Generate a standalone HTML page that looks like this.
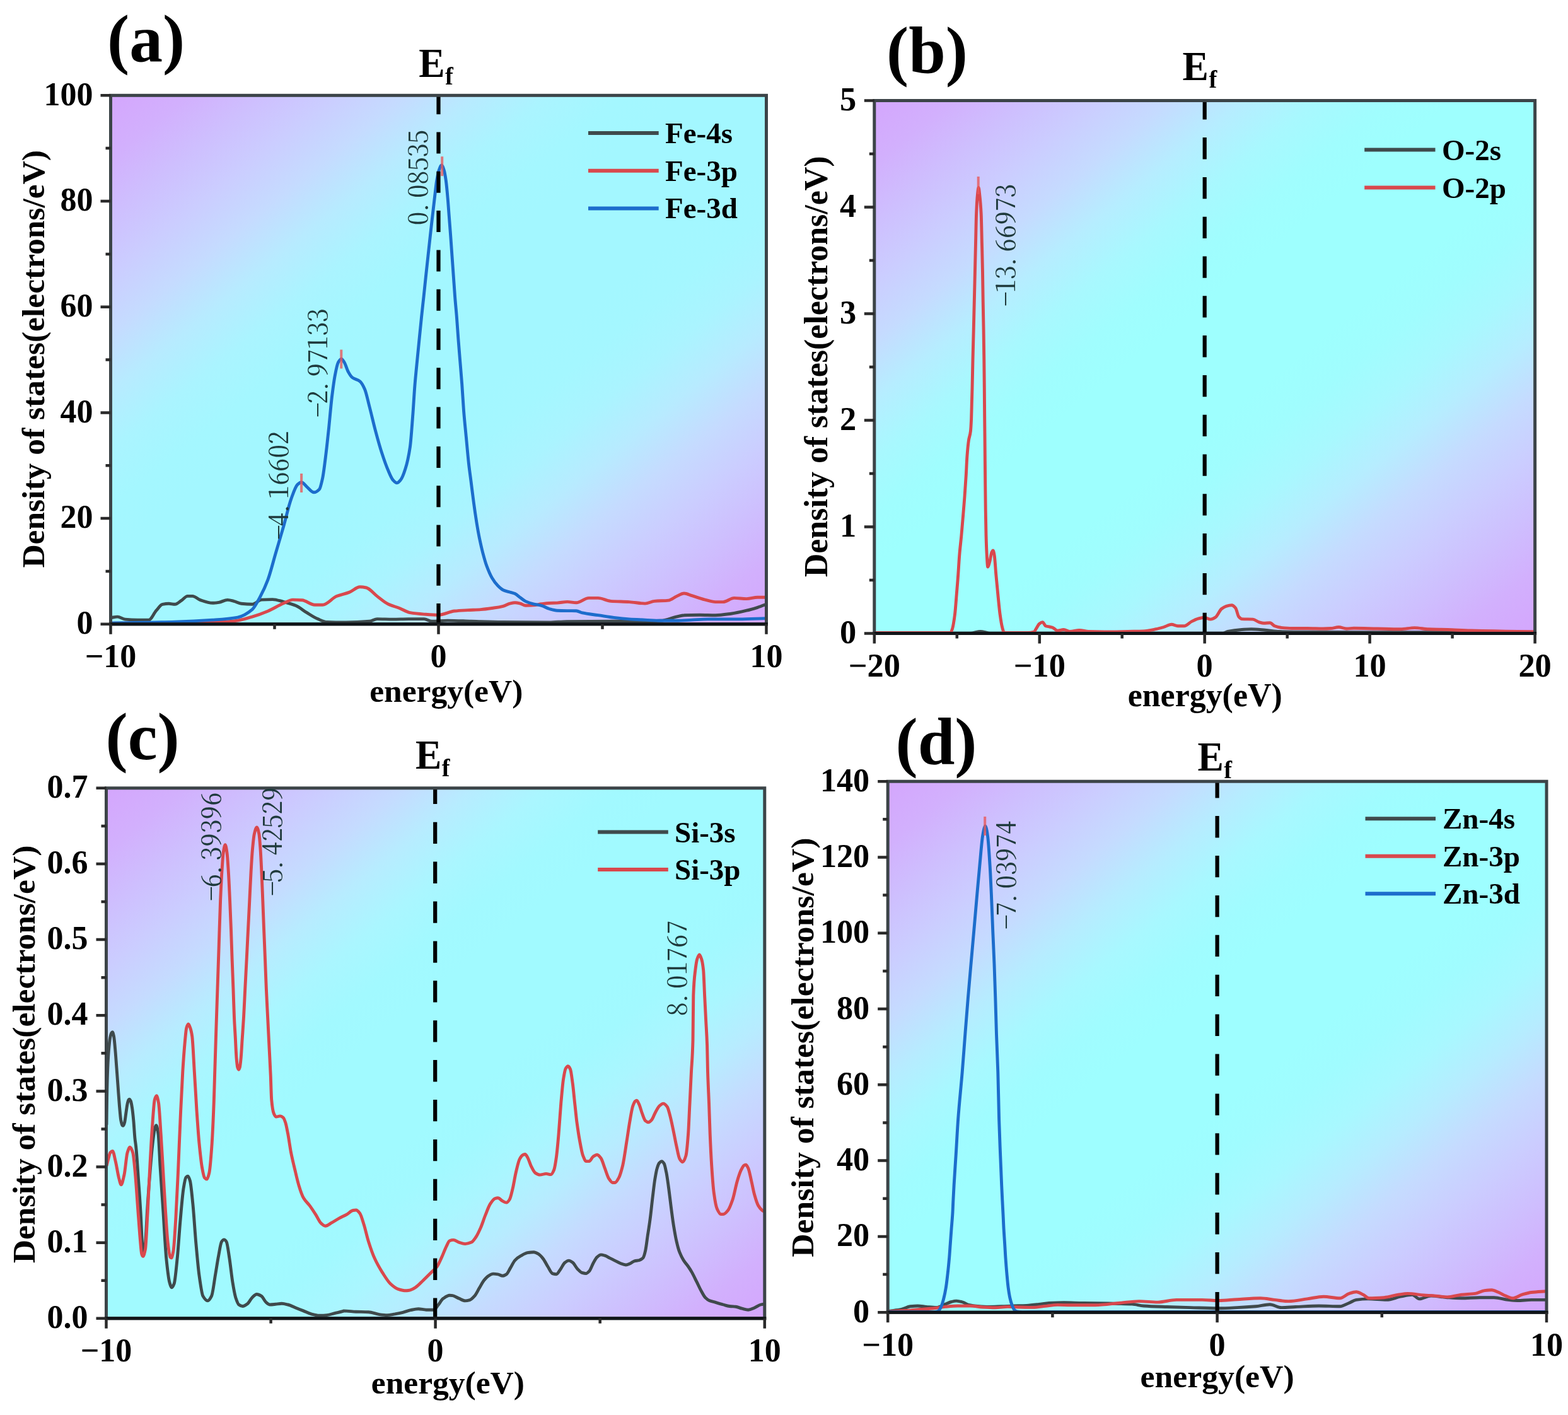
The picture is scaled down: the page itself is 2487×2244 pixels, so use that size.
<!DOCTYPE html>
<html lang="en"><head><meta charset="utf-8"><title>Partial density of states: Fe, O, Si, Zn</title>
<style>
html,body{margin:0;padding:0;background:#fff;overflow:hidden}
svg{display:block}
text{white-space:pre}
</style></head>
<body>
<svg xmlns="http://www.w3.org/2000/svg" width="2487" height="2244" viewBox="0 0 2487 2244">
<defs><linearGradient id="bg-a" x1="0" y1="0" x2="1" y2="1"><stop offset="0" stop-color="#d4a6fd"/><stop offset="0.06" stop-color="#d2b0fd"/><stop offset="0.115" stop-color="#cebffe"/><stop offset="0.17" stop-color="#cbcdff"/><stop offset="0.225" stop-color="#c5dbff"/><stop offset="0.28" stop-color="#b7ebff"/><stop offset="0.335" stop-color="#aaf4ff"/><stop offset="0.39" stop-color="#a4f7ff"/><stop offset="0.44" stop-color="#a3f7ff"/><stop offset="0.5" stop-color="#a3f7ff"/><stop offset="0.56" stop-color="#a3f7ff"/><stop offset="0.61" stop-color="#a4f7ff"/><stop offset="0.665" stop-color="#aaf4ff"/><stop offset="0.72" stop-color="#b7ebff"/><stop offset="0.775" stop-color="#c5dbff"/><stop offset="0.83" stop-color="#cbcdff"/><stop offset="0.885" stop-color="#cebffe"/><stop offset="0.94" stop-color="#d2b0fd"/><stop offset="1" stop-color="#d4a6fd"/></linearGradient><linearGradient id="bg-b" x1="0" y1="0" x2="1" y2="1"><stop offset="0" stop-color="#d4a6fd"/><stop offset="0.06" stop-color="#d2b0fd"/><stop offset="0.115" stop-color="#cebffe"/><stop offset="0.17" stop-color="#cbcdff"/><stop offset="0.225" stop-color="#c5dbff"/><stop offset="0.28" stop-color="#b6edff"/><stop offset="0.335" stop-color="#a8f8fe"/><stop offset="0.39" stop-color="#a0fdfe"/><stop offset="0.44" stop-color="#9efffe"/><stop offset="0.5" stop-color="#9efffe"/><stop offset="0.56" stop-color="#9efffe"/><stop offset="0.61" stop-color="#a0fdfe"/><stop offset="0.665" stop-color="#a8f8fe"/><stop offset="0.72" stop-color="#b6edff"/><stop offset="0.775" stop-color="#c5dbff"/><stop offset="0.83" stop-color="#cbcdff"/><stop offset="0.885" stop-color="#cebffe"/><stop offset="0.94" stop-color="#d2b0fd"/><stop offset="1" stop-color="#d4a6fd"/></linearGradient><linearGradient id="bg-c" x1="0" y1="0" x2="1" y2="1"><stop offset="0" stop-color="#d4a6fd"/><stop offset="0.06" stop-color="#d2b0fd"/><stop offset="0.115" stop-color="#cebffe"/><stop offset="0.17" stop-color="#cbcdff"/><stop offset="0.225" stop-color="#c5dbff"/><stop offset="0.28" stop-color="#b7ecff"/><stop offset="0.335" stop-color="#aaf6ff"/><stop offset="0.39" stop-color="#a2f9ff"/><stop offset="0.44" stop-color="#a1faff"/><stop offset="0.5" stop-color="#a1faff"/><stop offset="0.56" stop-color="#a1faff"/><stop offset="0.61" stop-color="#a2f9ff"/><stop offset="0.665" stop-color="#aaf6ff"/><stop offset="0.72" stop-color="#b7ecff"/><stop offset="0.775" stop-color="#c5dbff"/><stop offset="0.83" stop-color="#cbcdff"/><stop offset="0.885" stop-color="#cebffe"/><stop offset="0.94" stop-color="#d2b0fd"/><stop offset="1" stop-color="#d4a6fd"/></linearGradient><linearGradient id="bg-d" x1="0" y1="0" x2="1" y2="1"><stop offset="0" stop-color="#d4a6fd"/><stop offset="0.06" stop-color="#d2b0fd"/><stop offset="0.115" stop-color="#cebffe"/><stop offset="0.17" stop-color="#cbcdff"/><stop offset="0.225" stop-color="#c5dbff"/><stop offset="0.28" stop-color="#b6ecff"/><stop offset="0.335" stop-color="#a8f8ff"/><stop offset="0.39" stop-color="#a0fcff"/><stop offset="0.44" stop-color="#9efeff"/><stop offset="0.5" stop-color="#9efeff"/><stop offset="0.56" stop-color="#9efeff"/><stop offset="0.61" stop-color="#a0fcff"/><stop offset="0.665" stop-color="#a8f8ff"/><stop offset="0.72" stop-color="#b6ecff"/><stop offset="0.775" stop-color="#c5dbff"/><stop offset="0.83" stop-color="#cbcdff"/><stop offset="0.885" stop-color="#cebffe"/><stop offset="0.94" stop-color="#d2b0fd"/><stop offset="1" stop-color="#d4a6fd"/></linearGradient></defs>
<rect width="2487" height="2244" fill="#fff"/>
<g id="panel-a">
<rect x="175.5" y="151.3" width="1040.0" height="838.5" fill="url(#bg-a)"/>
<clipPath id="clip-a"><rect x="175.5" y="111.3" width="1040.0" height="879.5"/></clipPath>
<g clip-path="url(#clip-a)" fill="none" stroke-linejoin="round" stroke-linecap="round">
<path d="M175.5 979.7C179.1 979.2 182.8 978.1 186.4 978.1C190.4 978.1 194.3 981.7 198.3 982.1C204.9 982.7 211.5 983.1 218.1 983.1C224.1 983.1 230.0 983.1 236.0 983.1C240.0 983.1 243.9 972.6 247.9 968.2C251.2 964.6 254.5 958.9 257.8 958.3C261.1 957.7 264.4 957.3 267.7 957.3C271.0 957.3 274.3 958.3 277.6 958.3C280.9 958.3 284.3 954.5 287.6 952.4C290.9 950.2 294.2 945.4 297.5 945.4C300.1 945.4 302.8 945.4 305.4 945.4C309.4 945.4 313.3 950.0 317.3 951.4C323.9 953.6 330.5 956.3 337.1 956.3C340.4 956.3 343.7 955.8 347.1 955.3C351.7 954.7 356.3 951.4 360.9 951.4C364.2 951.4 367.5 952.5 370.8 953.4C374.8 954.3 378.8 956.9 382.7 957.3C388.5 957.9 394.2 958.3 400.0 958.3C405.0 958.3 409.9 951.4 414.9 951.1C420.7 950.8 426.4 950.6 432.2 950.6C438.0 950.6 443.8 952.9 449.6 954.3C456.2 956.0 462.8 957.7 469.4 960.5C475.2 963.0 481.0 968.2 486.8 971.7C492.5 975.2 498.3 979.2 504.1 981.6C509.1 983.7 514.0 986.4 519.0 986.5C528.9 986.9 538.8 987.0 548.7 987.0C561.1 987.0 573.5 986.4 585.9 985.3C590.1 984.9 594.2 981.6 598.3 981.6C606.6 981.6 614.8 982.1 623.1 982.1C631.4 982.1 639.6 981.6 647.9 981.6C656.2 981.6 664.4 981.6 672.7 981.6C676.8 981.6 680.9 985.3 685.1 985.3C693.3 985.3 701.6 984.1 709.9 984.1C722.3 984.1 734.7 984.9 747.1 985.3C763.6 985.8 780.1 986.4 796.6 986.5C821.4 986.8 846.2 987.0 871.0 987.0C880.4 987.0 889.8 985.7 899.2 985.6C923.9 985.3 948.7 985.3 973.5 985.1C998.3 984.9 1023.1 984.9 1047.9 984.3C1056.2 984.2 1064.4 980.0 1072.7 978.1C1076.8 977.2 1080.9 975.8 1085.1 975.7C1093.3 975.3 1101.6 975.2 1109.9 975.2C1118.1 975.2 1126.4 975.7 1134.7 975.7C1142.9 975.7 1151.2 974.3 1159.4 973.2C1167.7 972.1 1176.0 970.2 1184.2 968.2C1190.0 966.9 1195.8 965.1 1201.6 963.3C1206.1 961.8 1210.7 960.0 1215.2 958.3" stroke="#3f4a4c" stroke-width="4.9"/>
<path d="M175.5 988.1C216.2 987.9 256.8 987.9 297.5 987.7C317.3 987.5 337.1 987.0 357.0 986.1C363.6 985.8 370.2 985.0 376.8 984.1C384.5 983.0 392.3 980.5 400.0 978.1C408.3 975.7 416.5 972.7 424.8 969.2C433.1 965.7 441.3 960.3 449.6 956.8C454.5 954.7 459.5 951.1 464.5 951.1C469.4 951.1 474.4 951.4 479.3 951.8C485.9 952.4 492.5 959.3 499.2 959.3C503.3 959.3 507.4 959.3 511.6 959.3C519.0 959.3 526.4 948.7 533.9 945.6C540.5 942.9 547.1 942.0 553.7 939.4C559.5 937.2 565.3 930.8 571.0 930.8C574.4 930.8 577.7 931.3 581.0 932.0C586.7 933.2 592.5 941.3 598.3 945.6C604.1 950.0 609.9 955.3 615.7 958.0C621.5 960.8 627.2 962.0 633.0 964.2C638.8 966.5 644.6 970.6 650.4 971.7C657.8 973.0 665.2 973.6 672.7 974.1C680.1 974.7 687.6 975.4 695.0 975.4C703.6 975.4 712.3 969.9 720.9 969.0C727.9 968.3 734.8 968.0 741.8 967.6C748.7 967.2 755.7 967.1 762.6 966.6C769.6 966.1 776.5 965.0 783.5 964.0C788.4 963.3 793.2 962.5 798.1 961.3C801.6 960.4 805.1 958.1 808.6 957.2C811.4 956.5 814.1 955.7 816.9 955.7C819.7 955.7 822.5 956.5 825.3 957.2C828.1 957.9 830.8 960.3 833.6 960.3C837.8 960.3 841.9 960.1 846.1 959.9C850.3 959.7 854.5 958.3 858.7 957.8C862.9 957.3 867.0 956.7 871.2 956.5C875.4 956.3 879.5 956.3 883.7 956.1C889.1 955.8 894.6 954.4 900.0 954.4C904.7 954.4 909.4 955.8 914.0 955.8C920.6 955.8 927.3 948.4 933.9 948.4C938.8 948.4 943.8 948.4 948.7 948.4C955.3 948.4 962.0 952.9 968.6 953.4C978.5 954.1 988.4 954.0 998.3 954.6C1006.6 955.1 1014.8 957.1 1023.1 957.1C1028.1 957.1 1033.0 953.8 1038.0 953.4C1045.4 952.7 1052.9 952.9 1060.3 952.1C1064.4 951.7 1068.6 947.8 1072.7 945.9C1076.8 944.1 1080.9 941.0 1085.1 941.0C1089.2 941.0 1093.3 943.4 1097.5 944.7C1104.1 946.7 1110.7 949.2 1117.3 950.9C1123.1 952.3 1128.9 954.6 1134.7 954.6C1138.8 954.6 1142.9 954.6 1147.1 954.6C1152.8 954.6 1158.6 948.4 1164.4 948.4C1171.0 948.4 1177.6 949.6 1184.2 949.6C1190.0 949.6 1195.8 947.2 1201.6 947.2C1206.1 947.2 1210.7 947.2 1215.2 947.2" stroke="#d9484d" stroke-width="4.9"/>
<path d="M175.5 988.1C209.6 987.4 243.6 987.1 277.6 986.1C297.5 985.5 317.3 984.5 337.1 983.1C350.4 982.2 363.6 981.5 376.8 979.1C384.5 977.8 392.3 973.2 400.0 966.7C404.1 963.2 408.3 954.5 412.4 946.9C416.5 939.2 420.7 930.7 424.8 919.6C428.9 908.6 433.1 891.5 437.2 877.5C441.3 863.4 445.4 849.8 449.6 835.3C453.7 820.9 457.8 802.1 462.0 790.7C465.3 781.6 468.6 771.4 471.9 768.4C474.0 766.5 476.0 764.7 478.1 764.7C481.0 764.7 483.9 769.8 486.8 772.1C490.5 775.2 494.2 780.8 497.9 780.8C500.8 780.8 503.7 778.9 506.6 775.8C508.2 774.1 509.9 766.2 511.6 758.5C513.2 750.8 514.9 736.8 516.5 723.8C518.2 710.8 519.8 694.8 521.5 679.2C523.1 663.5 524.8 643.2 526.4 629.6C528.1 616.0 529.7 603.3 531.4 594.9C533.0 586.5 534.7 578.1 536.3 575.0C538.0 572.0 539.6 569.1 541.3 569.1C543.0 569.1 544.6 572.4 546.3 575.0C548.3 578.3 550.4 586.3 552.5 589.9C554.5 593.6 556.6 597.0 558.7 598.6C562.8 601.8 566.9 601.5 571.0 604.8C573.5 606.8 576.0 611.5 578.5 617.2C581.0 622.9 583.4 635.0 585.9 644.5C589.2 657.1 592.5 671.8 595.8 684.1C599.1 696.5 602.4 708.6 605.8 718.8C609.1 729.0 612.4 738.5 615.7 746.1C618.1 751.8 620.6 758.2 623.1 761.0C625.2 763.3 627.2 765.9 629.3 765.9C631.4 765.9 633.4 763.4 635.5 761.0C638.0 758.1 640.5 751.3 642.9 743.6C645.4 735.9 647.9 726.0 650.4 708.9C651.8 699.2 653.2 678.4 654.6 660.3C655.8 645.3 656.9 623.7 658.1 609.5C659.3 595.3 660.4 584.7 661.6 572.6C662.7 560.8 663.9 549.3 665.0 537.9C666.2 526.2 667.3 514.5 668.5 503.3C669.7 492.1 670.8 481.8 672.0 470.9C673.1 460.3 674.3 449.2 675.4 438.6C676.6 427.7 677.7 417.1 678.9 406.3C680.1 395.5 681.2 384.4 682.4 373.9C683.5 363.7 684.7 353.8 685.8 343.9C687.0 333.8 688.1 323.6 689.3 313.9C690.4 304.4 691.6 292.9 692.7 286.2C693.9 279.3 695.0 273.2 696.2 270.0C697.6 266.1 699.0 261.9 700.4 261.9C701.7 261.9 703.0 266.0 704.3 270.0C705.3 273.1 706.3 279.2 707.3 286.2C708.2 292.7 709.2 303.4 710.1 313.9C710.9 322.6 711.6 333.9 712.4 343.9C713.2 353.9 713.9 363.5 714.7 373.9C715.5 384.3 716.2 395.5 717.0 406.3C717.8 417.1 718.5 427.8 719.3 438.6C720.1 449.4 720.8 461.1 721.6 470.9C722.5 482.8 723.5 491.5 724.4 503.3C725.2 513.8 726.1 527.0 726.9 537.9C727.8 550.1 728.8 561.1 729.7 572.6C730.7 584.9 731.7 596.0 732.7 609.5C733.6 622.1 734.6 639.5 735.5 651.3C736.8 667.7 738.1 679.4 739.4 693.1C740.7 707.2 742.1 722.9 743.4 734.8C744.7 746.7 746.1 755.7 747.4 766.1C748.7 776.5 750.1 787.8 751.4 797.5C752.9 808.7 754.5 819.4 756.0 828.8C757.5 838.0 759.0 846.5 760.5 853.8C762.3 862.4 764.0 870.1 765.8 876.8C767.9 884.7 769.9 892.1 772.0 897.7C774.8 905.3 777.6 911.8 780.4 916.5C783.5 921.8 786.7 925.9 789.8 929.0C792.6 931.8 795.3 934.4 798.1 935.7C801.6 937.3 805.1 937.9 808.6 939.0C811.4 939.9 814.1 940.3 816.9 941.5C819.7 942.7 822.5 945.8 825.3 947.8C828.1 949.8 830.8 952.3 833.6 953.6C837.8 955.5 841.9 956.8 846.1 957.8C850.3 958.8 854.5 959.2 858.7 960.3C862.9 961.4 867.0 964.3 871.2 965.5C875.4 966.7 879.5 968.0 883.7 968.2C889.1 968.4 894.6 968.5 900.0 968.6C904.7 968.7 909.4 968.6 914.0 968.7C917.3 968.8 920.6 971.2 923.9 971.9C932.2 973.7 940.5 974.4 948.7 975.7C957.0 976.9 965.3 978.4 973.5 979.4C981.8 980.4 990.1 981.3 998.3 981.9C1006.6 982.4 1014.8 982.7 1023.1 983.1C1031.4 983.5 1039.6 984.3 1047.9 984.3C1056.2 984.3 1064.4 984.3 1072.7 984.3C1080.9 984.3 1089.2 983.5 1097.5 983.1C1105.7 982.7 1114.0 981.9 1122.3 981.9C1138.8 981.9 1155.3 981.9 1171.8 981.9C1186.3 981.9 1200.8 981.0 1215.2 980.6" stroke="#1c6dcc" stroke-width="4.9"/>
</g>
<line x1="701.2" y1="248.2" x2="701.2" y2="279.2" stroke="#e8575a" stroke-width="4" stroke-opacity="0.8"/>
<line x1="541.3" y1="554.5" x2="541.3" y2="584.5" stroke="#e8575a" stroke-width="4" stroke-opacity="0.8"/>
<line x1="478.1" y1="751.0" x2="478.1" y2="781.0" stroke="#e8575a" stroke-width="4" stroke-opacity="0.8"/>
<line x1="695.5" y1="989.8" x2="695.5" y2="151.3" stroke="#000" stroke-width="6.2" stroke-dasharray="34 28.3" stroke-dashoffset="1.3"/>
<rect x="175.5" y="151.3" width="1040.0" height="838.5" fill="none" stroke="#3c4448" stroke-width="5"/>
<line x1="173.0" y1="989.8" x2="1218.0" y2="989.8" stroke="#101418" stroke-width="5"/>
<path d="M175.5 989.8 V1005.8M435.5 989.8 V997.8M695.5 989.8 V1005.8M955.5 989.8 V997.8M1215.5 989.8 V1005.8M175.5 989.8 H159.5M175.5 905.9 H167.5M175.5 822.1 H159.5M175.5 738.2 H167.5M175.5 654.4 H159.5M175.5 570.5 H167.5M175.5 486.7 H159.5M175.5 402.9 H167.5M175.5 319.0 H159.5M175.5 235.1 H167.5M175.5 151.3 H159.5" stroke="#2a2a2a" stroke-width="4.5" fill="none"/>
<g font-family="'Liberation Serif','Noto Serif CJK SC',serif" font-weight="bold" font-size="52.0" fill="#000">
<text x="175.5" y="1057.5" text-anchor="middle">−10</text>
<text x="695.5" y="1057.5" text-anchor="middle">0</text>
<text x="1215.5" y="1057.5" text-anchor="middle">10</text>
<text x="147.5" y="1005.0" text-anchor="end">0</text>
<text x="147.5" y="837.3" text-anchor="end">20</text>
<text x="147.5" y="669.6" text-anchor="end">40</text>
<text x="147.5" y="501.9" text-anchor="end">60</text>
<text x="147.5" y="334.2" text-anchor="end">80</text>
<text x="147.5" y="166.5" text-anchor="end">100</text>
</g>
<text x="707.8" y="1113.4" text-anchor="middle" font-family="'Liberation Serif','Noto Serif CJK SC',serif" font-weight="bold" font-size="51.5">energy(eV)</text>
<text transform="translate(69.5 569.3) rotate(-90)" text-anchor="middle" font-family="'Liberation Serif','Noto Serif CJK SC',serif" font-weight="bold" font-size="51.5">Density of states(electrons/eV)</text>
<text transform="translate(664.3 122.2) scale(0.96 1)" font-family="'Liberation Serif','Noto Serif CJK SC',serif" font-weight="bold" font-size="64.5">E<tspan font-size="40" dx="0.5" dy="11.5">f</tspan></text>
<text x="170.0" y="97.0" font-family="'Liberation Serif','Noto Serif CJK SC',serif" font-weight="bold" font-size="105.5">(a)</text>
<line x1="933.0" y1="211.0" x2="1044.7" y2="211.0" stroke="#3f4a4c" stroke-width="6.0"/>
<text x="1055.0" y="227.0" font-family="'Liberation Serif','Noto Serif CJK SC',serif" font-weight="bold" font-size="47">Fe-4s</text>
<line x1="933.0" y1="270.7" x2="1044.7" y2="270.7" stroke="#d9484d" stroke-width="6.0"/>
<text x="1055.0" y="286.7" font-family="'Liberation Serif','Noto Serif CJK SC',serif" font-weight="bold" font-size="47">Fe-3p</text>
<line x1="933.0" y1="330.4" x2="1044.7" y2="330.4" stroke="#1c6dcc" stroke-width="6.0"/>
<text x="1055.0" y="346.4" font-family="'Liberation Serif','Noto Serif CJK SC',serif" font-weight="bold" font-size="47">Fe-3d</text>
<text transform="translate(457.0 856.2) rotate(-90) scale(1 0.926)" x="-0.1 21.6 38.7 64.8 86.4 108.0 129.6 151.2" y="-4.3 0.0 0.0 0.0 0.0 0.0 0.0 0.0" font-family="'Noto Serif CJK SC','Liberation Serif',serif" font-weight="400" font-size="43.2" fill="#1f3a3c" style="font-feature-settings:'hwid'">–4.16602</text>
<text transform="translate(519.0 662.2) rotate(-90) scale(1 0.926)" x="-0.1 21.6 38.7 64.8 86.4 108.0 129.6 151.2" y="-4.3 0.0 0.0 0.0 0.0 0.0 0.0 0.0" font-family="'Noto Serif CJK SC','Liberation Serif',serif" font-weight="400" font-size="43.2" fill="#1f3a3c" style="font-feature-settings:'hwid'">–2.97133</text>
<text transform="translate(678.0 357.2) rotate(-90) scale(1 0.926)" x="0.0 17.1 43.2 64.8 86.4 108.0 129.6" y="0.0 0.0 0.0 0.0 0.0 0.0 0.0" font-family="'Noto Serif CJK SC','Liberation Serif',serif" font-weight="400" font-size="43.2" fill="#1f3a3c" style="font-feature-settings:'hwid'">0.08535</text>
</g>
<g id="panel-b">
<rect x="1386.8" y="159.5" width="1047.8" height="845.0" fill="url(#bg-b)"/>
<clipPath id="clip-b"><rect x="1386.8" y="119.5" width="1047.8" height="886.0"/></clipPath>
<g clip-path="url(#clip-b)" fill="none" stroke-linejoin="round" stroke-linecap="round">
<path d="M1387.0 1004.0C1438.0 1004.0 1489.0 1004.0 1540.0 1004.0C1545.0 1004.0 1550.0 1001.5 1555.0 1001.5C1560.0 1001.5 1565.0 1004.0 1570.0 1004.0C1693.3 1004.0 1816.7 1004.0 1940.0 1004.0C1942.5 1004.0 1944.9 1002.0 1947.4 1001.5C1954.8 999.9 1962.2 999.0 1969.6 998.5C1974.6 998.2 1979.5 997.8 1984.4 997.8C1991.8 997.8 1999.2 998.7 2006.7 999.3C2014.1 999.8 2021.5 1001.2 2028.9 1001.5C2043.7 1001.9 2058.5 1002.1 2073.3 1002.2C2110.4 1002.4 2147.4 1002.5 2184.4 1002.6C2267.4 1002.8 2350.3 1002.8 2433.3 1003.0" stroke="#3f4a4c" stroke-width="4.9"/>
<path d="M1387.0 1003.5C1424.7 1003.5 1462.3 1003.5 1500.0 1003.5C1502.5 1003.5 1505.0 1003.5 1507.5 1003.5C1508.4 1003.5 1509.4 1000.6 1510.3 998.0C1511.7 994.0 1513.1 985.1 1514.5 974.2C1515.4 967.2 1516.3 953.8 1517.2 942.9C1518.0 932.8 1518.9 922.9 1519.7 911.5C1520.4 901.9 1521.1 888.7 1521.8 880.2C1522.8 867.6 1523.9 860.1 1524.9 848.9C1525.8 839.2 1526.7 828.4 1527.6 817.5C1528.4 807.4 1529.3 797.6 1530.1 786.2C1530.8 776.6 1531.5 766.5 1532.2 754.9C1532.8 745.5 1533.3 731.1 1533.9 723.6C1534.7 712.6 1535.6 704.0 1536.4 698.5C1537.4 691.9 1538.4 692.0 1539.4 684.0C1539.8 680.8 1540.2 674.1 1540.6 665.0C1540.8 659.7 1541.1 648.2 1541.3 640.0C1541.5 631.8 1541.8 625.1 1542.0 616.0C1542.3 603.0 1542.7 584.0 1543.0 570.0C1543.4 553.2 1543.8 540.0 1544.2 524.0C1544.6 509.3 1544.9 493.3 1545.3 478.0C1545.7 462.7 1546.0 447.4 1546.4 432.0C1546.8 416.6 1547.1 401.0 1547.5 385.5C1547.9 370.0 1548.2 348.2 1548.6 339.0C1549.2 324.8 1549.7 315.6 1550.3 310.0C1550.9 304.1 1551.5 297.5 1552.1 297.5C1552.7 297.5 1553.3 304.7 1553.9 310.0C1554.7 316.8 1555.4 323.8 1556.2 339.3C1556.6 347.4 1557.0 369.4 1557.4 385.5C1557.8 400.2 1558.1 412.6 1558.5 431.7C1558.7 443.9 1559.0 464.4 1559.2 477.9C1559.5 495.3 1559.8 506.6 1560.1 524.0C1560.3 537.5 1560.6 552.1 1560.8 570.2C1561.0 583.2 1561.1 599.2 1561.3 616.4C1561.4 630.1 1561.6 649.1 1561.7 662.6C1561.8 672.7 1561.9 679.9 1562.0 690.0C1562.1 700.1 1562.2 712.8 1562.3 723.6C1562.4 738.0 1562.6 752.9 1562.7 765.3C1562.9 780.8 1563.0 796.2 1563.2 807.1C1563.5 824.6 1563.7 839.4 1564.0 848.9C1564.4 863.1 1564.8 873.3 1565.2 880.2C1565.7 888.8 1566.2 899.0 1566.7 899.0C1567.7 899.0 1568.8 894.2 1569.8 890.7C1570.8 887.2 1571.9 878.3 1572.9 876.0C1573.6 874.5 1574.3 872.9 1575.0 872.9C1575.7 872.9 1576.4 876.5 1577.1 880.2C1578.0 884.9 1578.9 901.6 1579.8 911.5C1580.8 922.5 1581.8 932.9 1582.8 942.9C1583.9 953.9 1585.0 966.2 1586.1 974.2C1587.3 982.9 1588.5 990.7 1589.7 995.1C1590.7 998.9 1591.8 1003.5 1592.8 1003.5C1595.2 1003.5 1597.6 1003.5 1600.0 1003.5C1610.0 1003.5 1620.0 1003.5 1630.0 1003.5C1633.3 1003.5 1636.7 1003.0 1640.0 1002.0C1641.2 1001.6 1642.5 998.3 1643.7 996.5C1645.4 994.1 1647.0 990.3 1648.7 989.1C1650.3 987.8 1652.0 986.6 1653.6 986.6C1655.3 986.6 1656.9 992.2 1658.6 992.8C1660.7 993.5 1662.7 993.6 1664.8 994.0C1666.4 994.4 1668.1 994.7 1669.7 995.3C1672.2 996.1 1674.7 1000.2 1677.2 1000.2C1680.5 1000.2 1683.8 998.5 1687.1 998.5C1690.4 998.5 1693.7 1001.5 1697.0 1001.5C1702.0 1001.5 1706.9 999.5 1711.9 999.5C1716.8 999.5 1721.8 1001.3 1726.8 1001.5C1735.0 1001.8 1743.3 1002.0 1751.6 1002.0C1763.9 1002.0 1776.3 1001.7 1788.7 1001.5C1797.0 1001.3 1805.3 1001.3 1813.5 1001.0C1820.1 1000.7 1826.7 999.1 1833.4 997.7C1837.5 996.9 1841.6 995.7 1845.8 994.5C1849.9 993.3 1854.0 990.3 1858.1 990.3C1861.5 990.3 1864.8 992.8 1868.1 992.8C1871.4 992.8 1874.7 992.8 1878.0 992.8C1882.1 992.8 1886.2 987.4 1890.4 985.4C1893.7 983.7 1897.0 982.0 1900.3 981.1C1903.6 980.2 1906.9 979.2 1910.2 979.2C1913.5 979.2 1916.8 982.1 1920.1 982.1C1922.6 982.1 1925.1 980.7 1927.6 979.2C1930.9 977.2 1934.2 968.1 1937.5 965.5C1940.0 963.6 1942.4 962.0 1944.9 961.3C1947.8 960.5 1950.7 959.8 1953.6 959.8C1955.7 959.8 1957.7 961.9 1959.8 964.3C1961.4 966.2 1963.1 976.0 1964.7 977.9C1966.4 979.9 1968.0 981.5 1969.7 981.6C1975.5 982.0 1981.3 981.8 1987.1 982.1C1990.4 982.3 1993.7 985.6 1997.0 986.6C1999.4 987.3 2001.9 988.3 2004.4 988.3C2007.7 988.3 2011.0 987.8 2014.3 987.8C2016.8 987.8 2019.3 991.9 2021.8 992.8C2025.1 994.0 2028.4 994.9 2031.7 995.3C2037.5 995.9 2043.2 996.5 2049.0 996.5C2057.3 996.5 2065.5 996.5 2073.8 996.5C2082.1 996.5 2090.3 997.0 2098.6 997.0C2102.7 997.0 2106.9 996.8 2111.0 996.5C2115.1 996.2 2119.3 994.5 2123.4 994.5C2127.5 994.5 2131.7 997.0 2135.8 997.0C2139.7 997.0 2143.5 996.3 2147.4 996.3C2159.7 996.3 2172.1 996.8 2184.4 997.0C2196.8 997.3 2209.1 997.8 2221.5 997.8C2228.9 997.8 2236.3 995.6 2243.7 995.6C2251.1 995.6 2258.5 997.5 2265.9 997.8C2275.8 998.2 2285.7 998.2 2295.5 998.5C2307.9 998.9 2320.2 999.7 2332.6 1000.0C2344.9 1000.3 2357.3 1000.5 2369.6 1000.7C2381.9 1001.0 2394.3 1001.3 2406.6 1001.5C2415.5 1001.6 2424.4 1001.7 2433.3 1001.8" stroke="#d9484d" stroke-width="4.9"/>
</g>
<line x1="1551.7" y1="280.0" x2="1551.7" y2="308.0" stroke="#e8575a" stroke-width="4" stroke-opacity="0.8"/>
<line x1="1910.7" y1="1004.5" x2="1910.7" y2="159.5" stroke="#000" stroke-width="6.2" stroke-dasharray="34.3 28.5" stroke-dashoffset="1.5"/>
<rect x="1386.8" y="159.5" width="1047.8" height="845.0" fill="none" stroke="#3c4448" stroke-width="5"/>
<line x1="1384.3" y1="1004.5" x2="2437.1" y2="1004.5" stroke="#101418" stroke-width="5"/>
<path d="M1386.8 1004.5 V1020.5M1517.8 1004.5 V1012.5M1648.8 1004.5 V1020.5M1779.7 1004.5 V1012.5M1910.7 1004.5 V1020.5M2041.7 1004.5 V1012.5M2172.6 1004.5 V1020.5M2303.6 1004.5 V1012.5M2434.6 1004.5 V1020.5M1386.8 1004.5 H1370.8M1386.8 920.0 H1378.8M1386.8 835.5 H1370.8M1386.8 751.0 H1378.8M1386.8 666.5 H1370.8M1386.8 582.0 H1378.8M1386.8 497.5 H1370.8M1386.8 413.0 H1378.8M1386.8 328.5 H1370.8M1386.8 244.0 H1378.8M1386.8 159.5 H1370.8" stroke="#2a2a2a" stroke-width="4.5" fill="none"/>
<g font-family="'Liberation Serif','Noto Serif CJK SC',serif" font-weight="bold" font-size="52.42" fill="#000">
<text x="1386.8" y="1072.5" text-anchor="middle">−20</text>
<text x="1648.8" y="1072.5" text-anchor="middle">−10</text>
<text x="1910.7" y="1072.5" text-anchor="middle">0</text>
<text x="2172.6" y="1072.5" text-anchor="middle">10</text>
<text x="2434.6" y="1072.5" text-anchor="middle">20</text>
<text x="1358.3" y="1020.1" text-anchor="end">0</text>
<text x="1358.3" y="851.1" text-anchor="end">1</text>
<text x="1358.3" y="682.1" text-anchor="end">2</text>
<text x="1358.3" y="513.1" text-anchor="end">3</text>
<text x="1358.3" y="344.1" text-anchor="end">4</text>
<text x="1358.3" y="175.1" text-anchor="end">5</text>
</g>
<text x="1911.2" y="1119.5" text-anchor="middle" font-family="'Liberation Serif','Noto Serif CJK SC',serif" font-weight="bold" font-size="51.91">energy(eV)</text>
<text transform="translate(1312.4 581.4) rotate(-90)" text-anchor="middle" font-family="'Liberation Serif','Noto Serif CJK SC',serif" font-weight="bold" font-size="51.91">Density of states(electrons/eV)</text>
<text transform="translate(1875.6 127.3) scale(0.96 1)" font-family="'Liberation Serif','Noto Serif CJK SC',serif" font-weight="bold" font-size="64.5">E<tspan font-size="40" dx="0.5" dy="11.5">f</tspan></text>
<text x="1406.0" y="116.0" font-family="'Liberation Serif','Noto Serif CJK SC',serif" font-weight="bold" font-size="105.5">(b)</text>
<line x1="2164.2" y1="237.5" x2="2276.5" y2="237.5" stroke="#3f4a4c" stroke-width="6.0"/>
<text x="2287.0" y="253.5" font-family="'Liberation Serif','Noto Serif CJK SC',serif" font-weight="bold" font-size="47">O-2s</text>
<line x1="2164.2" y1="297.5" x2="2276.5" y2="297.5" stroke="#d9484d" stroke-width="6.0"/>
<text x="2287.0" y="313.5" font-family="'Liberation Serif','Noto Serif CJK SC',serif" font-weight="bold" font-size="47">O-2p</text>
<text transform="translate(1610.0 486.2) rotate(-90) scale(1 0.926)" x="-0.1 21.6 43.2 60.3 86.4 108.0 129.6 151.2 172.8" y="-4.3 0.0 0.0 0.0 0.0 0.0 0.0 0.0 0.0" font-family="'Noto Serif CJK SC','Liberation Serif',serif" font-weight="400" font-size="43.2" fill="#1f3a3c" style="font-feature-settings:'hwid'">–13.66973</text>
</g>
<g id="panel-c">
<rect x="168.5" y="1249.8" width="1044.3" height="841.0" fill="url(#bg-c)"/>
<clipPath id="clip-c"><rect x="168.5" y="1209.8" width="1044.3" height="882.0"/></clipPath>
<g clip-path="url(#clip-c)" fill="none" stroke-linejoin="round" stroke-linecap="round">
<path d="M169.0 1783.1C169.2 1768.2 169.4 1748.8 169.6 1738.5C170.0 1717.9 170.4 1703.6 170.8 1693.9C171.3 1681.6 171.8 1673.3 172.3 1667.1C173.1 1657.8 173.8 1650.2 174.5 1646.3C175.3 1642.4 176.0 1639.2 176.8 1638.1C177.3 1637.3 177.8 1636.6 178.3 1636.6C179.0 1636.6 179.7 1639.9 180.5 1643.3C181.2 1646.7 182.0 1655.9 182.7 1664.1C183.5 1672.3 184.2 1683.9 185.0 1693.9C185.7 1703.8 186.4 1713.7 187.2 1723.6C187.9 1733.5 188.7 1744.9 189.4 1753.4C190.2 1761.9 190.9 1771.4 191.6 1775.7C192.4 1779.9 193.1 1784.0 193.9 1784.6C194.4 1785.0 194.9 1785.3 195.4 1785.3C196.1 1785.3 196.9 1782.7 197.6 1780.1C198.3 1777.6 199.1 1770.2 199.8 1765.3C200.6 1760.3 201.3 1753.6 202.1 1750.4C202.7 1747.8 203.2 1745.2 203.8 1744.4C204.3 1743.8 204.8 1743.2 205.3 1743.2C206.0 1743.2 206.6 1744.6 207.3 1745.9C208.0 1747.5 208.8 1751.8 209.5 1756.3C210.2 1760.8 211.0 1767.9 211.7 1775.7C212.5 1783.5 213.2 1798.3 214.0 1805.4C214.5 1810.7 215.1 1812.9 215.6 1818.1C216.9 1829.7 218.1 1850.3 219.3 1867.6C220.6 1884.8 221.8 1900.8 223.0 1921.9C223.9 1936.0 224.7 1959.6 225.5 1971.4C226.1 1979.6 226.7 1991.2 227.2 1991.2C228.3 1991.2 229.4 1980.9 230.5 1971.4C231.7 1960.4 232.9 1927.9 234.2 1909.6C235.4 1891.3 236.6 1875.3 237.9 1860.1C239.1 1845.0 240.3 1829.1 241.6 1818.1C242.8 1807.1 244.1 1795.4 245.3 1790.9C246.1 1787.9 246.9 1784.7 247.8 1784.7C248.8 1784.7 249.9 1791.0 251.0 1798.3C252.0 1805.1 253.0 1832.1 253.9 1847.8C255.6 1873.9 257.2 1897.2 258.9 1921.9C260.5 1946.7 262.2 1979.6 263.8 1996.1C265.5 2012.6 267.1 2027.5 268.8 2033.2C270.0 2037.5 271.2 2041.8 272.5 2041.8C273.7 2041.8 275.0 2039.0 276.2 2035.7C277.8 2031.3 279.5 2012.2 281.1 1996.1C282.8 1980.0 284.4 1952.6 286.1 1934.3C287.7 1916.0 289.4 1895.2 291.0 1884.9C292.3 1877.1 293.5 1869.2 294.7 1867.6C295.8 1866.2 296.9 1865.1 297.9 1865.1C299.1 1865.1 300.3 1868.7 301.4 1872.5C302.9 1877.4 304.4 1894.8 305.9 1909.6C307.5 1926.0 309.2 1953.1 310.8 1971.4C312.5 1989.7 314.1 2008.9 315.7 2020.8C317.8 2035.8 319.9 2051.9 321.9 2055.4C324.4 2059.7 326.9 2062.9 329.3 2062.9C331.4 2062.9 333.5 2059.5 335.5 2055.4C337.6 2051.4 339.6 2032.8 341.7 2020.8C343.4 2011.3 345.0 1999.6 346.7 1991.2C348.3 1982.7 349.9 1971.1 351.6 1968.9C352.8 1967.3 354.1 1965.9 355.3 1965.9C356.5 1965.9 357.8 1967.2 359.0 1968.9C360.7 1971.1 362.3 1985.6 364.0 1996.1C365.6 2006.6 367.3 2023.3 368.9 2033.2C370.5 2043.1 372.2 2052.8 373.8 2057.9C375.5 2063.0 377.1 2067.9 378.8 2069.0C380.8 2070.5 382.9 2071.5 385.0 2071.5C387.4 2071.5 389.9 2069.6 392.4 2067.8C394.9 2066.0 397.3 2060.3 399.8 2057.9C402.3 2055.6 404.7 2052.5 407.2 2052.5C409.7 2052.5 412.2 2053.9 414.6 2055.4C417.1 2057.0 419.6 2063.3 422.1 2065.3C424.1 2067.0 426.2 2069.0 428.2 2069.0C431.1 2069.0 434.0 2068.6 436.9 2068.3C440.2 2068.0 443.5 2067.3 446.8 2067.3C450.1 2067.3 453.4 2068.2 456.7 2069.0C460.8 2070.0 464.9 2072.3 469.0 2074.0C473.1 2075.6 477.3 2077.3 481.4 2078.9C485.5 2080.6 489.6 2082.8 493.7 2083.9C497.9 2085.0 502.0 2086.3 506.1 2086.3C510.2 2086.3 514.3 2086.0 518.5 2085.6C522.6 2085.2 526.7 2083.6 530.8 2082.6C534.9 2081.6 539.1 2081.0 543.2 2079.7C543.8 2079.5 544.4 2078.9 544.9 2078.9C551.5 2078.9 558.1 2079.9 564.7 2080.2C571.3 2080.4 577.9 2080.4 584.5 2080.7C590.3 2080.9 596.0 2083.9 601.8 2084.6C605.9 2085.1 610.0 2085.6 614.2 2085.6C618.3 2085.6 622.4 2084.5 626.5 2083.9C630.6 2083.2 634.8 2082.4 638.9 2081.4C643.0 2080.4 647.1 2078.5 651.2 2077.7C655.4 2076.8 659.5 2075.7 663.6 2075.7C667.7 2075.7 671.9 2077.2 676.0 2077.2C680.1 2077.2 684.2 2077.2 688.3 2077.2C690.4 2077.2 692.5 2072.7 694.5 2070.3C697.4 2066.8 700.3 2061.2 703.2 2059.1C706.5 2056.8 709.8 2054.2 713.1 2054.2C714.7 2054.2 716.3 2054.4 718.0 2054.7C721.3 2055.2 724.6 2057.8 727.9 2059.1C731.2 2060.5 734.5 2062.9 737.8 2062.9C740.2 2062.9 742.7 2062.3 745.2 2061.6C747.7 2060.9 750.1 2058.2 752.6 2055.4C755.1 2052.7 757.6 2047.2 760.0 2043.1C762.5 2039.0 765.0 2033.8 767.4 2030.7C769.9 2027.6 772.4 2024.8 774.9 2023.3C777.3 2021.8 779.8 2020.1 782.3 2020.1C784.7 2020.1 787.2 2020.4 789.7 2020.8C792.2 2021.2 794.6 2023.3 797.1 2023.3C799.2 2023.3 801.2 2022.1 803.3 2020.8C805.3 2019.5 807.4 2014.3 809.5 2010.9C811.9 2006.9 814.4 2001.2 816.9 1998.6C820.2 1995.1 823.5 1993.0 826.8 1991.2C830.1 1989.3 833.4 1987.3 836.7 1986.7C840.0 1986.2 843.3 1985.7 846.6 1985.7C849.0 1985.7 851.5 1987.3 854.0 1988.7C856.4 1990.1 858.9 1993.0 861.4 1996.1C863.9 1999.2 866.3 2004.6 868.8 2008.5C871.3 2012.4 873.7 2018.7 876.2 2019.6C878.3 2020.3 880.3 2020.8 882.4 2020.8C884.5 2020.8 886.5 2016.1 888.6 2013.4C891.1 2010.1 893.5 2004.2 896.0 2002.3C898.1 2000.7 900.1 1999.1 902.2 1999.1C904.2 1999.1 906.3 2000.8 908.4 2002.3C910.8 2004.1 913.3 2009.6 915.8 2012.2C918.2 2014.7 920.7 2017.6 923.2 2018.4C925.2 2019.0 927.3 2019.6 929.4 2019.6C931.1 2019.6 932.9 2017.7 934.6 2015.9C936.7 2013.8 938.7 2007.2 940.8 2003.5C942.9 1999.9 944.9 1995.4 947.0 1993.6C949.0 1991.8 951.1 1989.9 953.2 1989.9C955.2 1989.9 957.3 1990.6 959.3 1991.2C961.8 1991.9 964.3 1993.6 966.7 1994.9C969.2 1996.1 971.7 1997.3 974.2 1998.6C977.5 2000.2 980.8 2002.3 984.1 2003.5C986.9 2004.6 989.8 2006.0 992.7 2006.0C994.8 2006.0 996.8 2004.9 998.9 2004.0C1001.4 2003.0 1003.8 2000.5 1006.3 1999.8C1008.8 1999.2 1011.2 1999.2 1013.7 1998.6C1015.8 1998.0 1017.8 1997.1 1019.9 1994.9C1021.1 1993.6 1022.4 1988.9 1023.6 1983.7C1024.8 1978.6 1026.1 1967.3 1027.3 1959.0C1028.6 1950.8 1029.8 1943.6 1031.0 1934.3C1032.3 1925.0 1033.5 1912.4 1034.7 1902.2C1036.0 1891.9 1037.2 1880.4 1038.4 1872.5C1039.7 1864.6 1040.9 1856.7 1042.2 1852.7C1043.4 1848.7 1044.6 1845.3 1045.9 1844.1C1047.1 1842.8 1048.3 1841.6 1049.6 1841.6C1050.8 1841.6 1052.0 1843.3 1053.3 1845.3C1054.5 1847.3 1055.7 1854.0 1057.0 1860.1C1058.2 1866.3 1059.5 1875.9 1060.7 1884.9C1061.9 1893.8 1063.2 1905.1 1064.4 1914.5C1065.6 1924.0 1066.9 1933.9 1068.1 1941.7C1069.8 1952.1 1071.4 1961.9 1073.1 1968.9C1074.7 1976.0 1076.3 1982.0 1078.0 1986.2C1080.1 1991.5 1082.1 1995.3 1084.2 1998.6C1086.7 2002.6 1089.1 2004.9 1091.6 2008.5C1093.7 2011.5 1095.7 2014.7 1097.8 2018.4C1100.2 2022.7 1102.7 2028.2 1105.2 2033.2C1107.7 2038.1 1110.1 2043.6 1112.6 2048.0C1114.7 2051.7 1116.7 2055.9 1118.8 2057.9C1120.8 2060.0 1122.9 2061.5 1125.0 2062.4C1128.3 2063.8 1131.6 2064.3 1134.9 2065.3C1139.0 2066.6 1143.1 2067.9 1147.2 2069.0C1150.5 2069.9 1153.8 2071.1 1157.1 2071.5C1160.4 2071.9 1163.7 2071.9 1167.0 2072.2C1170.3 2072.6 1173.6 2074.4 1176.9 2075.2C1180.2 2076.0 1183.5 2077.2 1186.8 2077.2C1190.1 2077.2 1193.4 2075.3 1196.7 2074.0C1200.0 2072.7 1203.3 2069.9 1206.6 2069.0C1208.9 2068.4 1211.2 2068.2 1213.5 2067.8" stroke="#3f4a4c" stroke-width="4.9"/>
<path d="M169.4 1847.8C170.2 1844.5 171.0 1840.9 171.9 1837.9C172.9 1834.3 173.8 1829.1 174.8 1828.0C176.1 1826.6 177.3 1825.5 178.5 1825.5C180.2 1825.5 181.8 1836.0 183.5 1842.8C185.1 1849.6 186.8 1861.4 188.4 1867.6C189.7 1872.1 190.9 1878.7 192.1 1878.7C193.8 1878.7 195.4 1869.9 197.1 1862.6C198.7 1855.3 200.4 1833.2 202.0 1828.0C203.4 1823.6 204.8 1819.3 206.2 1819.3C207.7 1819.3 209.2 1823.2 210.7 1828.0C211.9 1832.0 213.2 1847.2 214.4 1860.1C215.6 1873.1 216.9 1893.1 218.1 1909.6C219.3 1926.1 220.6 1945.0 221.8 1959.0C222.8 1970.3 223.8 1985.7 224.8 1988.7C225.4 1990.7 226.1 1992.4 226.7 1992.4C228.0 1992.4 229.2 1987.5 230.5 1981.3C231.7 1975.0 232.9 1943.9 234.2 1921.9C235.4 1900.0 236.6 1870.2 237.9 1847.8C239.1 1825.3 240.3 1802.6 241.6 1786.0C242.8 1769.3 244.1 1748.2 245.3 1743.9C246.3 1740.5 247.3 1737.8 248.3 1737.8C249.3 1737.8 250.4 1743.1 251.5 1748.9C252.7 1755.6 253.9 1780.0 255.2 1798.3C256.4 1816.6 257.7 1839.5 258.9 1860.1C260.1 1880.7 261.4 1903.6 262.6 1921.9C263.8 1940.3 265.1 1961.2 266.3 1971.4C267.5 1981.6 268.8 1992.2 270.0 1993.6C270.6 1994.3 271.2 1994.9 271.7 1994.9C272.8 1994.9 273.9 1989.6 275.0 1983.7C276.2 1977.0 277.4 1954.1 278.7 1934.3C279.9 1914.5 281.1 1886.8 282.4 1860.1C283.6 1833.5 284.8 1800.2 286.1 1773.6C287.3 1747.0 288.6 1719.2 289.8 1699.4C291.0 1679.7 292.3 1663.0 293.5 1650.0C294.3 1642.1 295.0 1632.4 295.8 1629.9C296.8 1626.6 297.7 1624.0 298.7 1624.0C299.7 1624.0 300.7 1627.2 301.7 1629.9C302.7 1632.7 303.7 1636.5 304.7 1643.3C305.9 1651.6 307.1 1680.0 308.3 1699.4C309.6 1719.2 310.8 1742.9 312.0 1761.2C313.3 1779.6 314.5 1797.7 315.7 1810.7C317.4 1828.0 319.0 1843.9 320.7 1852.7C321.9 1859.3 323.2 1866.1 324.4 1867.6C325.6 1869.0 326.9 1870.0 328.1 1870.0C329.3 1870.0 330.6 1865.3 331.8 1860.1C333.1 1854.9 334.3 1839.5 335.5 1823.1C336.8 1806.6 338.0 1781.2 339.2 1748.9C339.6 1738.7 340.0 1722.7 340.4 1710.0C341.2 1684.9 341.9 1660.0 342.7 1636.2C343.5 1612.4 344.2 1590.0 345.0 1566.9C345.8 1543.8 346.5 1520.8 347.3 1497.7C348.1 1474.6 348.8 1447.0 349.6 1428.5C350.4 1410.0 351.1 1394.4 351.9 1382.3C352.7 1370.2 353.4 1357.3 354.2 1352.3C355.2 1345.8 356.2 1339.6 357.2 1339.6C358.1 1339.6 359.1 1345.9 360.0 1352.3C360.8 1357.5 361.5 1370.2 362.3 1382.3C363.1 1394.4 363.8 1411.6 364.6 1428.5C365.2 1442.5 365.9 1457.9 366.5 1474.6C367.0 1488.7 367.6 1506.3 368.1 1520.8C368.7 1537.1 369.3 1550.6 369.9 1566.9C370.4 1581.4 371.0 1601.1 371.5 1613.1C372.1 1627.3 372.8 1636.0 373.4 1647.7C373.9 1657.6 374.5 1671.5 375.0 1677.7C375.6 1684.7 376.2 1690.7 376.8 1692.7C377.4 1694.6 377.9 1696.2 378.5 1696.2C379.1 1696.2 379.7 1694.6 380.3 1692.7C380.9 1690.7 381.6 1684.2 382.2 1677.7C382.9 1670.8 383.5 1657.7 384.2 1647.7C385.0 1636.2 385.7 1626.3 386.5 1613.1C387.3 1599.9 388.0 1582.0 388.8 1566.9C389.6 1551.2 390.4 1536.5 391.2 1520.8C392.0 1505.7 392.7 1490.0 393.5 1474.6C394.3 1459.2 395.0 1443.9 395.8 1428.5C396.6 1413.1 397.3 1395.5 398.1 1382.3C398.9 1369.1 399.6 1356.1 400.4 1347.7C401.4 1336.7 402.4 1326.4 403.4 1322.3C404.7 1316.9 406.0 1311.9 407.3 1311.9C408.5 1311.9 409.6 1316.6 410.8 1322.3C411.6 1326.0 412.3 1336.8 413.1 1347.7C413.7 1356.2 414.3 1369.4 414.9 1382.3C415.5 1395.9 416.2 1412.7 416.8 1428.5C417.4 1443.5 418.0 1459.6 418.6 1474.6C419.2 1490.4 419.9 1505.0 420.5 1520.8C421.1 1535.8 421.7 1553.3 422.3 1566.9C423.1 1584.2 423.8 1597.7 424.6 1613.1C425.4 1628.5 426.1 1643.9 426.9 1659.2C427.7 1674.5 428.4 1687.6 429.2 1705.0C429.7 1716.4 430.2 1738.6 430.7 1743.9C431.9 1757.1 433.2 1763.5 434.4 1766.2C435.6 1768.9 436.9 1771.1 438.1 1771.1C440.2 1771.1 442.2 1769.9 444.3 1769.9C445.9 1769.9 447.6 1771.0 449.2 1772.4C450.5 1773.4 451.7 1777.2 453.0 1781.0C454.2 1784.9 455.4 1791.9 456.7 1798.3C458.3 1806.9 460.0 1819.6 461.6 1828.0C463.7 1838.5 465.7 1846.6 467.8 1855.2C469.8 1863.8 471.9 1873.3 474.0 1879.9C476.4 1887.9 478.9 1895.4 481.4 1899.7C484.7 1905.4 488.0 1907.6 491.3 1912.1C494.6 1916.5 497.9 1921.7 501.2 1926.9C503.6 1930.8 506.1 1936.9 508.6 1939.2C511.1 1941.6 513.5 1944.2 516.0 1944.2C519.3 1944.2 522.6 1941.0 525.9 1939.2C530.0 1937.0 534.1 1934.1 538.2 1931.8C542.4 1929.6 546.5 1928.0 550.6 1925.6C553.7 1923.9 556.7 1920.0 559.8 1919.5C561.4 1919.2 563.1 1919.0 564.7 1919.0C566.8 1919.0 568.8 1921.7 570.9 1924.4C573.0 1927.2 575.0 1935.2 577.1 1941.7C579.6 1949.5 582.0 1961.1 584.5 1968.9C587.8 1979.3 591.1 1988.9 594.4 1996.1C598.5 2005.1 602.6 2011.9 606.7 2018.4C610.9 2024.8 615.0 2031.8 619.1 2035.7C623.2 2039.5 627.4 2043.0 631.5 2044.3C635.6 2045.6 639.7 2046.8 643.8 2046.8C645.5 2046.8 647.1 2046.5 648.8 2046.3C652.1 2045.8 655.4 2043.8 658.7 2041.8C662.8 2039.4 666.9 2034.6 671.0 2030.7C675.1 2026.8 679.3 2022.5 683.4 2018.4C686.7 2015.1 690.0 2012.9 693.3 2008.5C695.7 2005.1 698.2 1999.0 700.7 1993.6C703.2 1988.3 705.6 1981.2 708.1 1976.3C709.8 1973.1 711.4 1968.3 713.1 1967.7C715.1 1966.9 717.2 1966.4 719.2 1966.4C722.1 1966.4 725.0 1969.2 727.9 1970.1C731.2 1971.2 734.5 1972.6 737.8 1972.6C741.1 1972.6 744.4 1971.5 747.7 1970.1C750.1 1969.1 752.6 1965.1 755.1 1961.5C757.6 1957.9 760.0 1952.3 762.5 1946.7C765.0 1941.0 767.4 1933.0 769.9 1926.9C772.4 1920.7 774.9 1913.4 777.3 1909.6C779.8 1905.7 782.3 1901.9 784.7 1900.9C786.4 1900.3 788.0 1899.7 789.7 1899.7C792.2 1899.7 794.6 1903.4 797.1 1904.6C799.2 1905.7 801.2 1907.1 803.3 1907.1C804.9 1907.1 806.6 1904.7 808.2 1902.2C809.9 1899.6 811.5 1891.6 813.2 1884.9C814.8 1878.1 816.5 1867.1 818.1 1860.1C820.2 1851.5 822.2 1841.6 824.3 1837.9C825.9 1834.9 827.6 1832.5 829.2 1831.7C830.5 1831.1 831.7 1830.5 833.0 1830.5C834.2 1830.5 835.4 1833.3 836.7 1835.4C838.7 1838.9 840.8 1846.3 842.8 1850.2C844.9 1854.2 847.0 1858.8 849.0 1860.1C851.5 1861.7 854.0 1863.1 856.4 1863.1C859.7 1863.1 863.0 1861.4 866.3 1861.4C868.8 1861.4 871.3 1862.6 873.7 1862.6C875.4 1862.6 877.0 1859.2 878.7 1855.2C879.9 1852.2 881.2 1844.0 882.4 1835.4C883.6 1826.8 884.9 1812.5 886.1 1798.3C887.3 1784.2 888.6 1763.0 889.8 1748.9C891.1 1734.8 892.3 1719.7 893.5 1711.8C894.8 1703.9 896.0 1696.5 897.2 1694.5C898.5 1692.5 899.7 1690.8 900.9 1690.8C902.2 1690.8 903.4 1693.0 904.6 1695.7C905.9 1698.5 907.1 1709.9 908.4 1719.2C909.6 1728.5 910.8 1742.6 912.1 1753.8C913.0 1762.2 913.9 1771.5 914.8 1778.6C916.5 1791.1 918.1 1801.9 919.8 1810.7C921.4 1819.5 923.1 1828.8 924.7 1832.9C926.4 1837.1 928.0 1841.6 929.7 1841.6C931.3 1841.6 933.0 1841.6 934.6 1841.6C936.7 1841.6 938.7 1835.6 940.8 1834.2C942.9 1832.8 944.9 1831.2 947.0 1831.2C949.0 1831.2 951.1 1833.9 953.2 1836.7C955.2 1839.4 957.3 1847.4 959.3 1852.7C961.4 1858.1 963.5 1865.6 965.5 1868.8C967.6 1871.9 969.6 1875.5 971.7 1875.5C972.9 1875.5 974.2 1875.5 975.4 1875.5C977.5 1875.5 979.5 1871.3 981.6 1867.6C983.6 1863.8 985.7 1856.4 987.8 1847.8C989.8 1839.2 991.9 1823.6 993.9 1810.7C995.6 1800.4 997.2 1787.9 998.9 1778.6C1000.5 1769.2 1002.2 1758.4 1003.8 1753.8C1005.1 1750.4 1006.3 1747.4 1007.5 1746.4C1008.4 1745.8 1009.2 1745.2 1010.0 1745.2C1011.2 1745.2 1012.5 1748.7 1013.7 1751.4C1015.4 1754.8 1017.0 1762.0 1018.7 1766.2C1020.3 1770.4 1022.0 1776.0 1023.6 1777.3C1025.3 1778.7 1026.9 1779.8 1028.6 1779.8C1030.2 1779.8 1031.9 1777.8 1033.5 1776.1C1035.6 1773.9 1037.6 1767.4 1039.7 1763.7C1041.7 1760.1 1043.8 1755.6 1045.9 1753.8C1047.9 1752.0 1050.0 1750.1 1052.0 1750.1C1054.1 1750.1 1056.2 1752.4 1058.2 1755.1C1059.9 1757.2 1061.5 1764.9 1063.2 1771.1C1064.8 1777.4 1066.5 1785.6 1068.1 1793.4C1069.8 1801.2 1071.4 1810.8 1073.1 1818.1C1074.7 1825.4 1076.3 1835.2 1078.0 1837.9C1079.6 1840.5 1081.3 1842.8 1082.9 1842.8C1084.6 1842.8 1086.2 1838.5 1087.9 1832.9C1089.1 1828.7 1090.4 1814.5 1091.6 1798.3C1092.4 1787.6 1093.2 1765.4 1094.1 1748.9C1094.9 1732.4 1095.7 1715.9 1096.5 1699.4C1097.4 1683.0 1098.2 1680.4 1099.0 1650.0C1099.3 1640.4 1099.5 1585.6 1099.8 1578.5C1100.8 1551.5 1101.8 1547.0 1102.8 1538.8C1103.8 1530.6 1104.7 1523.9 1105.7 1521.0C1106.9 1517.4 1108.1 1514.0 1109.3 1514.0C1110.4 1514.0 1111.6 1517.5 1112.7 1521.0C1113.7 1524.0 1114.7 1529.3 1115.7 1538.8C1116.3 1545.1 1117.0 1565.3 1117.6 1578.5C1118.3 1591.7 1119.0 1604.9 1119.6 1618.1C1120.3 1631.4 1120.9 1638.3 1121.6 1657.8C1121.9 1666.6 1122.2 1689.4 1122.5 1699.4C1123.2 1721.8 1123.8 1731.3 1124.5 1748.9C1125.1 1764.3 1125.6 1784.6 1126.2 1798.3C1127.0 1817.9 1127.9 1835.2 1128.7 1847.8C1129.9 1866.6 1131.1 1883.4 1132.4 1892.3C1134.0 1904.1 1135.7 1913.3 1137.3 1917.0C1139.4 1921.6 1141.5 1925.6 1143.5 1925.6C1144.7 1925.6 1146.0 1925.6 1147.2 1925.6C1149.7 1925.6 1152.2 1922.5 1154.6 1919.5C1157.1 1916.4 1159.6 1909.4 1162.1 1902.2C1164.5 1894.9 1167.0 1880.6 1169.5 1872.5C1171.5 1865.7 1173.6 1859.2 1175.6 1855.2C1177.3 1852.0 1178.9 1848.3 1180.6 1847.8C1181.4 1847.5 1182.2 1847.3 1183.1 1847.3C1184.3 1847.3 1185.5 1850.1 1186.8 1852.7C1188.4 1856.2 1190.1 1865.5 1191.7 1872.5C1193.4 1879.5 1195.0 1889.0 1196.7 1894.7C1198.7 1901.9 1200.8 1908.6 1202.8 1912.1C1204.9 1915.5 1207.0 1917.9 1209.0 1919.5C1210.5 1920.6 1212.0 1921.1 1213.5 1921.9" stroke="#d9484d" stroke-width="4.9"/>
</g>
<line x1="690.2" y1="2090.8" x2="690.2" y2="1249.8" stroke="#000" stroke-width="6.2" stroke-dasharray="34.3 28.6" stroke-dashoffset="2.0"/>
<rect x="168.5" y="1249.8" width="1044.3" height="841.0" fill="none" stroke="#3c4448" stroke-width="5"/>
<line x1="166.0" y1="2090.8" x2="1215.3" y2="2090.8" stroke="#101418" stroke-width="5"/>
<path d="M168.5 2090.8 V2106.8M429.6 2090.8 V2098.8M690.6 2090.8 V2106.8M951.7 2090.8 V2098.8M1212.8 2090.8 V2106.8M168.5 2090.8 H152.5M168.5 2030.7 H160.5M168.5 1970.7 H152.5M168.5 1910.6 H160.5M168.5 1850.5 H152.5M168.5 1790.4 H160.5M168.5 1730.4 H152.5M168.5 1670.3 H160.5M168.5 1610.2 H152.5M168.5 1550.2 H160.5M168.5 1490.1 H152.5M168.5 1430.0 H160.5M168.5 1369.9 H152.5M168.5 1309.9 H160.5M168.5 1249.8 H152.5" stroke="#2a2a2a" stroke-width="4.5" fill="none"/>
<g font-family="'Liberation Serif','Noto Serif CJK SC',serif" font-weight="bold" font-size="52.0" fill="#000">
<text x="168.5" y="2159.4" text-anchor="middle">−10</text>
<text x="690.6" y="2159.4" text-anchor="middle">0</text>
<text x="1212.8" y="2159.4" text-anchor="middle">10</text>
<text x="139.5" y="2106.0" text-anchor="end">0.0</text>
<text x="139.5" y="1985.9" text-anchor="end">0.1</text>
<text x="139.5" y="1865.7" text-anchor="end">0.2</text>
<text x="139.5" y="1745.6" text-anchor="end">0.3</text>
<text x="139.5" y="1625.4" text-anchor="end">0.4</text>
<text x="139.5" y="1505.3" text-anchor="end">0.5</text>
<text x="139.5" y="1385.1" text-anchor="end">0.6</text>
<text x="139.5" y="1265.0" text-anchor="end">0.7</text>
</g>
<text x="710.4" y="2210.3" text-anchor="middle" font-family="'Liberation Serif','Noto Serif CJK SC',serif" font-weight="bold" font-size="51.5">energy(eV)</text>
<text transform="translate(54.5 1672.0) rotate(-90)" text-anchor="middle" font-family="'Liberation Serif','Noto Serif CJK SC',serif" font-weight="bold" font-size="51.5">Density of states(electrons/eV)</text>
<text transform="translate(659.0 1219.0) scale(0.96 1)" font-family="'Liberation Serif','Noto Serif CJK SC',serif" font-weight="bold" font-size="64.5">E<tspan font-size="40" dx="0.5" dy="11.5">f</tspan></text>
<text x="167.5" y="1204.0" font-family="'Liberation Serif','Noto Serif CJK SC',serif" font-weight="bold" font-size="105.5">(c)</text>
<line x1="948.2" y1="1319.6" x2="1059.8" y2="1319.6" stroke="#3f4a4c" stroke-width="6.0"/>
<text x="1070.0" y="1335.6" font-family="'Liberation Serif','Noto Serif CJK SC',serif" font-weight="bold" font-size="47">Si-3s</text>
<line x1="948.2" y1="1378.9" x2="1059.8" y2="1378.9" stroke="#d9484d" stroke-width="6.0"/>
<text x="1070.0" y="1394.9" font-family="'Liberation Serif','Noto Serif CJK SC',serif" font-weight="bold" font-size="47">Si-3p</text>
<text transform="translate(350.0 1429.2) rotate(-90) scale(1 0.926)" x="-0.1 21.6 38.7 64.8 86.4 108.0 129.6 151.2" y="-4.3 0.0 0.0 0.0 0.0 0.0 0.0 0.0" font-family="'Noto Serif CJK SC','Liberation Serif',serif" font-weight="400" font-size="43.2" fill="#1f3a3c" style="font-feature-settings:'hwid'">–6.39396</text>
<text transform="translate(447.0 1421.2) rotate(-90) scale(1 0.926)" x="-0.1 21.6 38.7 64.8 86.4 108.0 129.6 151.2" y="-4.3 0.0 0.0 0.0 0.0 0.0 0.0 0.0" font-family="'Noto Serif CJK SC','Liberation Serif',serif" font-weight="400" font-size="43.2" fill="#1f3a3c" style="font-feature-settings:'hwid'">–5.42529</text>
<text transform="translate(1089.0 1611.2) rotate(-90) scale(1 0.926)" x="0.0 17.1 43.2 64.8 86.4 108.0 129.6" y="0.0 0.0 0.0 0.0 0.0 0.0 0.0" font-family="'Noto Serif CJK SC','Liberation Serif',serif" font-weight="400" font-size="43.2" fill="#1f3a3c" style="font-feature-settings:'hwid'">8.01767</text>
</g>
<g id="panel-d">
<rect x="1408.2" y="1239.2" width="1044.8" height="842.0" fill="url(#bg-d)"/>
<clipPath id="clip-d"><rect x="1408.2" y="1199.2" width="1044.8" height="883.0"/></clipPath>
<g clip-path="url(#clip-d)" fill="none" stroke-linejoin="round" stroke-linecap="round">
<path d="M1409.9 2079.3C1416.5 2078.3 1423.1 2077.7 1429.7 2076.4C1434.4 2075.4 1439.0 2072.3 1443.6 2071.8C1447.6 2071.4 1451.6 2071.0 1455.5 2071.0C1460.2 2071.0 1464.8 2072.0 1469.4 2072.4C1474.7 2072.8 1480.0 2073.4 1485.3 2073.4C1489.9 2073.4 1494.5 2070.2 1499.2 2068.4C1502.5 2067.2 1505.8 2065.2 1509.1 2064.5C1511.7 2063.8 1514.4 2063.1 1517.0 2063.1C1520.3 2063.1 1523.6 2064.1 1526.9 2065.0C1530.2 2066.0 1533.5 2068.7 1536.8 2069.4C1541.5 2070.4 1546.1 2071.0 1550.7 2071.4C1556.7 2071.9 1562.6 2072.4 1568.6 2072.4C1575.2 2072.4 1581.8 2072.0 1588.4 2071.8C1595.0 2071.6 1601.6 2071.2 1608.2 2071.0C1614.8 2070.8 1621.5 2070.7 1628.1 2070.4C1634.7 2070.1 1641.3 2069.2 1647.9 2068.4C1653.2 2067.8 1658.5 2066.7 1663.8 2066.4C1671.7 2066.1 1679.6 2065.8 1687.6 2065.8C1697.5 2065.8 1707.4 2066.3 1717.3 2066.4C1730.5 2066.7 1743.7 2066.8 1757.0 2067.0C1769.8 2067.3 1782.7 2067.4 1795.6 2068.1C1801.7 2068.4 1807.9 2070.6 1814.1 2071.0C1826.4 2071.9 1838.8 2072.1 1851.1 2072.5C1863.5 2072.9 1875.8 2073.3 1888.1 2073.6C1903.0 2074.0 1917.8 2074.7 1932.6 2074.7C1942.5 2074.7 1952.3 2074.1 1962.2 2073.6C1972.1 2073.2 1982.0 2072.6 1991.8 2071.8C1999.2 2071.1 2006.7 2068.8 2014.1 2068.8C2020.2 2068.8 2026.4 2073.6 2032.6 2073.6C2040.0 2073.6 2047.4 2072.8 2054.8 2072.5C2067.1 2072.0 2079.5 2071.0 2091.8 2071.0C2102.9 2071.0 2114.1 2071.8 2125.2 2071.8C2130.1 2071.8 2135.0 2068.2 2140.0 2066.2C2143.7 2064.7 2147.4 2061.9 2151.1 2061.4C2157.3 2060.5 2163.4 2059.9 2169.6 2059.9C2179.5 2059.9 2189.4 2061.4 2199.2 2061.4C2206.6 2061.4 2214.1 2057.6 2221.5 2056.2C2227.6 2055.0 2233.8 2053.2 2240.0 2053.2C2243.7 2053.2 2247.4 2059.9 2251.1 2059.9C2257.3 2059.9 2263.4 2055.1 2269.6 2055.1C2278.2 2055.1 2286.9 2057.1 2295.5 2057.7C2302.9 2058.2 2310.3 2058.8 2317.7 2058.8C2327.6 2058.8 2337.5 2057.7 2347.4 2057.7C2354.8 2057.7 2362.2 2057.7 2369.6 2057.7C2377.0 2057.7 2384.4 2060.6 2391.8 2061.4C2396.8 2061.9 2401.7 2062.5 2406.6 2062.5C2414.0 2062.5 2421.4 2061.4 2428.9 2061.4C2436.9 2061.4 2444.9 2061.4 2452.9 2061.4" stroke="#3f4a4c" stroke-width="4.9"/>
<path d="M1409.9 2079.7C1419.8 2079.3 1429.7 2079.0 1439.7 2078.3C1446.3 2077.9 1452.9 2076.9 1459.5 2076.4C1466.1 2075.8 1472.7 2075.6 1479.3 2075.0C1485.9 2074.4 1492.5 2073.0 1499.2 2072.4C1505.8 2071.8 1512.4 2071.0 1519.0 2071.0C1525.6 2071.0 1532.2 2071.0 1538.8 2071.0C1545.4 2071.0 1552.0 2072.6 1558.7 2073.0C1565.3 2073.4 1571.9 2073.8 1578.5 2073.8C1585.1 2073.8 1591.7 2072.4 1598.3 2072.4C1604.9 2072.4 1611.5 2072.8 1618.1 2073.0C1624.8 2073.1 1631.4 2073.4 1638.0 2073.4C1644.6 2073.4 1651.2 2072.1 1657.8 2071.4C1664.4 2070.7 1671.0 2069.4 1677.6 2069.4C1684.3 2069.4 1690.9 2069.8 1697.5 2069.8C1710.7 2069.8 1723.9 2069.8 1737.1 2069.8C1750.4 2069.8 1763.7 2067.4 1777.0 2066.2C1786.9 2065.3 1796.8 2063.6 1806.7 2063.6C1816.5 2063.6 1826.4 2065.1 1836.3 2065.1C1846.2 2065.1 1856.0 2061.4 1865.9 2061.4C1879.5 2061.4 1893.1 2061.4 1906.7 2061.4C1915.3 2061.4 1923.9 2062.5 1932.6 2062.5C1942.5 2062.5 1952.3 2061.2 1962.2 2060.7C1974.6 2060.0 1986.9 2058.8 1999.2 2058.8C2006.7 2058.8 2014.1 2060.6 2021.5 2061.4C2028.9 2062.2 2036.3 2063.6 2043.7 2063.6C2053.6 2063.6 2063.4 2061.2 2073.3 2059.9C2082.0 2058.8 2090.6 2056.2 2099.2 2056.2C2107.9 2056.2 2116.5 2058.8 2125.2 2058.8C2130.1 2058.8 2135.0 2052.9 2140.0 2051.4C2143.7 2050.2 2147.4 2048.8 2151.1 2048.8C2154.8 2048.8 2158.5 2051.5 2162.2 2053.2C2165.3 2054.7 2168.4 2058.8 2171.5 2058.8C2179.5 2058.8 2187.5 2058.3 2195.5 2057.7C2202.9 2057.1 2210.3 2054.4 2217.8 2053.2C2222.7 2052.5 2227.6 2051.4 2232.6 2051.4C2241.2 2051.4 2249.9 2053.3 2258.5 2054.0C2264.7 2054.4 2270.8 2054.6 2277.0 2055.1C2283.2 2055.6 2289.4 2056.9 2295.5 2056.9C2302.9 2056.9 2310.3 2054.1 2317.7 2053.2C2325.2 2052.4 2332.6 2052.4 2340.0 2051.4C2344.9 2050.7 2349.8 2047.1 2354.8 2046.6C2358.5 2046.2 2362.2 2045.8 2365.9 2045.8C2369.6 2045.8 2373.3 2048.1 2377.0 2049.5C2380.7 2051.0 2384.4 2053.6 2388.1 2055.1C2391.8 2056.6 2395.5 2058.8 2399.2 2058.8C2404.2 2058.8 2409.1 2054.7 2414.0 2053.2C2419.0 2051.8 2423.9 2050.1 2428.9 2049.5C2436.9 2048.6 2444.9 2048.3 2452.9 2047.7" stroke="#d9484d" stroke-width="4.9"/>
<path d="M1409.0 2080.5C1429.3 2080.5 1449.7 2080.5 1470.0 2080.5C1473.3 2080.5 1476.7 2080.6 1480.0 2080.6C1482.2 2080.6 1484.3 2080.4 1486.5 2080.0C1487.7 2079.8 1488.8 2078.6 1490.0 2077.3C1491.2 2076.0 1492.3 2073.3 1493.5 2070.4C1494.6 2067.6 1495.8 2063.4 1496.9 2058.9C1498.1 2054.2 1499.2 2048.8 1500.4 2041.6C1501.4 2035.7 1502.3 2027.1 1503.3 2018.5C1504.1 2011.7 1504.8 2004.3 1505.6 1995.4C1506.2 1988.8 1506.7 1980.0 1507.3 1972.3C1507.9 1964.6 1508.4 1956.7 1509.0 1949.2C1509.6 1941.3 1510.2 1935.9 1510.8 1926.2C1511.2 1920.3 1511.5 1910.5 1511.9 1903.1C1512.3 1895.1 1512.7 1887.0 1513.1 1880.0C1514.2 1861.3 1515.2 1847.1 1516.3 1830.0C1517.4 1812.3 1518.5 1790.6 1519.6 1775.5C1521.8 1745.2 1524.0 1727.2 1526.2 1700.3C1527.7 1681.6 1529.3 1659.9 1530.8 1640.3C1532.3 1620.7 1533.9 1601.0 1535.4 1582.5C1536.9 1564.0 1538.5 1546.9 1540.0 1529.4C1541.6 1511.5 1543.1 1494.2 1544.7 1476.3C1546.2 1458.8 1547.8 1440.5 1549.3 1423.2C1550.8 1405.9 1552.4 1388.5 1553.9 1372.4C1555.4 1356.3 1557.0 1336.0 1558.5 1326.2C1559.4 1320.5 1560.3 1315.5 1561.2 1313.0C1561.7 1311.6 1562.2 1310.0 1562.7 1310.0C1563.2 1310.0 1563.7 1311.6 1564.2 1313.0C1565.0 1315.3 1565.8 1320.1 1566.6 1326.2C1567.8 1335.0 1568.9 1353.5 1570.1 1372.4C1570.9 1384.8 1571.6 1401.5 1572.4 1418.6C1573.2 1435.7 1573.9 1457.9 1574.7 1476.3C1575.5 1494.7 1576.2 1509.4 1577.0 1529.4C1577.6 1545.0 1578.2 1563.5 1578.8 1582.5C1579.4 1600.4 1579.9 1623.5 1580.5 1640.3C1581.3 1663.1 1582.0 1675.4 1582.8 1700.3C1583.4 1719.8 1584.0 1755.6 1584.6 1775.5C1585.3 1797.6 1585.9 1813.0 1586.6 1830.0C1587.3 1847.8 1588.0 1864.5 1588.7 1880.0C1589.1 1888.1 1589.4 1895.7 1589.8 1903.1C1590.2 1911.1 1590.6 1918.2 1591.0 1926.2C1591.4 1933.6 1591.7 1942.6 1592.1 1949.2C1592.6 1958.1 1593.1 1964.3 1593.6 1972.3C1594.1 1979.7 1594.5 1988.6 1595.0 1995.4C1595.6 2004.1 1596.2 2011.7 1596.8 2018.5C1597.6 2027.2 1598.3 2035.8 1599.1 2041.6C1600.1 2048.9 1601.0 2054.7 1602.0 2058.9C1603.1 2063.8 1604.3 2067.6 1605.4 2070.4C1606.6 2073.3 1607.7 2076.2 1608.9 2077.3C1610.4 2078.7 1612.0 2079.8 1613.5 2080.0C1616.3 2080.4 1619.2 2080.6 1622.0 2080.6C1631.3 2080.6 1640.7 2080.5 1650.0 2080.5C1917.3 2080.5 2184.7 2080.5 2452.0 2080.5" stroke="#1c6dcc" stroke-width="4.9"/>
</g>
<line x1="1562.2" y1="1295.0" x2="1562.2" y2="1325.0" stroke="#e8575a" stroke-width="4" stroke-opacity="0.8"/>
<line x1="1930.6" y1="2081.2" x2="1930.6" y2="1239.2" stroke="#000" stroke-width="6.2" stroke-dasharray="34.3 28.6" stroke-dashoffset="2.0"/>
<rect x="1408.2" y="1239.2" width="1044.8" height="842.0" fill="none" stroke="#3c4448" stroke-width="5"/>
<line x1="1405.7" y1="2081.2" x2="2455.5" y2="2081.2" stroke="#101418" stroke-width="5"/>
<path d="M1408.2 2081.2 V2097.2M1669.4 2081.2 V2089.2M1930.6 2081.2 V2097.2M2191.8 2081.2 V2089.2M2453.0 2081.2 V2097.2M1408.2 2081.2 H1392.2M1408.2 2021.1 H1400.2M1408.2 1960.9 H1392.2M1408.2 1900.8 H1400.2M1408.2 1840.6 H1392.2M1408.2 1780.5 H1400.2M1408.2 1720.3 H1392.2M1408.2 1660.2 H1400.2M1408.2 1600.1 H1392.2M1408.2 1539.9 H1400.2M1408.2 1479.8 H1392.2M1408.2 1419.6 H1400.2M1408.2 1359.5 H1392.2M1408.2 1299.3 H1400.2M1408.2 1239.2 H1392.2" stroke="#2a2a2a" stroke-width="4.5" fill="none"/>
<g font-family="'Liberation Serif','Noto Serif CJK SC',serif" font-weight="bold" font-size="52.21" fill="#000">
<text x="1408.2" y="2150.3" text-anchor="middle">−10</text>
<text x="1930.6" y="2150.3" text-anchor="middle">0</text>
<text x="2453.0" y="2150.3" text-anchor="middle">10</text>
<text x="1379.2" y="2096.6" text-anchor="end">0</text>
<text x="1379.2" y="1976.3" text-anchor="end">20</text>
<text x="1379.2" y="1856.0" text-anchor="end">40</text>
<text x="1379.2" y="1735.7" text-anchor="end">60</text>
<text x="1379.2" y="1615.5" text-anchor="end">80</text>
<text x="1379.2" y="1495.2" text-anchor="end">100</text>
<text x="1379.2" y="1374.9" text-anchor="end">120</text>
<text x="1379.2" y="1254.6" text-anchor="end">140</text>
</g>
<text x="1930.6" y="2199.5" text-anchor="middle" font-family="'Liberation Serif','Noto Serif CJK SC',serif" font-weight="bold" font-size="51.71">energy(eV)</text>
<text transform="translate(1289.7 1661.2) rotate(-90)" text-anchor="middle" font-family="'Liberation Serif','Noto Serif CJK SC',serif" font-weight="bold" font-size="51.71">Density of states(electrons/eV)</text>
<text transform="translate(1899.5 1222.2) scale(0.96 1)" font-family="'Liberation Serif','Noto Serif CJK SC',serif" font-weight="bold" font-size="64.5">E<tspan font-size="40" dx="0.5" dy="11.5">f</tspan></text>
<text x="1420.5" y="1211.5" font-family="'Liberation Serif','Noto Serif CJK SC',serif" font-weight="bold" font-size="105.5">(d)</text>
<line x1="2165.5" y1="1298.3" x2="2277.0" y2="1298.3" stroke="#3f4a4c" stroke-width="6.0"/>
<text x="2288.0" y="1314.3" font-family="'Liberation Serif','Noto Serif CJK SC',serif" font-weight="bold" font-size="47">Zn-4s</text>
<line x1="2165.5" y1="1357.8" x2="2277.0" y2="1357.8" stroke="#d9484d" stroke-width="6.0"/>
<text x="2288.0" y="1373.8" font-family="'Liberation Serif','Noto Serif CJK SC',serif" font-weight="bold" font-size="47">Zn-3p</text>
<line x1="2165.5" y1="1417.3" x2="2277.0" y2="1417.3" stroke="#1c6dcc" stroke-width="6.0"/>
<text x="2288.0" y="1433.3" font-family="'Liberation Serif','Noto Serif CJK SC',serif" font-weight="bold" font-size="47">Zn-3d</text>
<text transform="translate(1610.5 1474.2) rotate(-90) scale(1 0.926)" x="-0.1 21.6 38.7 64.8 86.4 108.0 129.6 151.2" y="-4.3 0.0 0.0 0.0 0.0 0.0 0.0 0.0" font-family="'Noto Serif CJK SC','Liberation Serif',serif" font-weight="400" font-size="43.2" fill="#1f3a3c" style="font-feature-settings:'hwid'">–7.03974</text>
</g>
</svg>
</body></html>
